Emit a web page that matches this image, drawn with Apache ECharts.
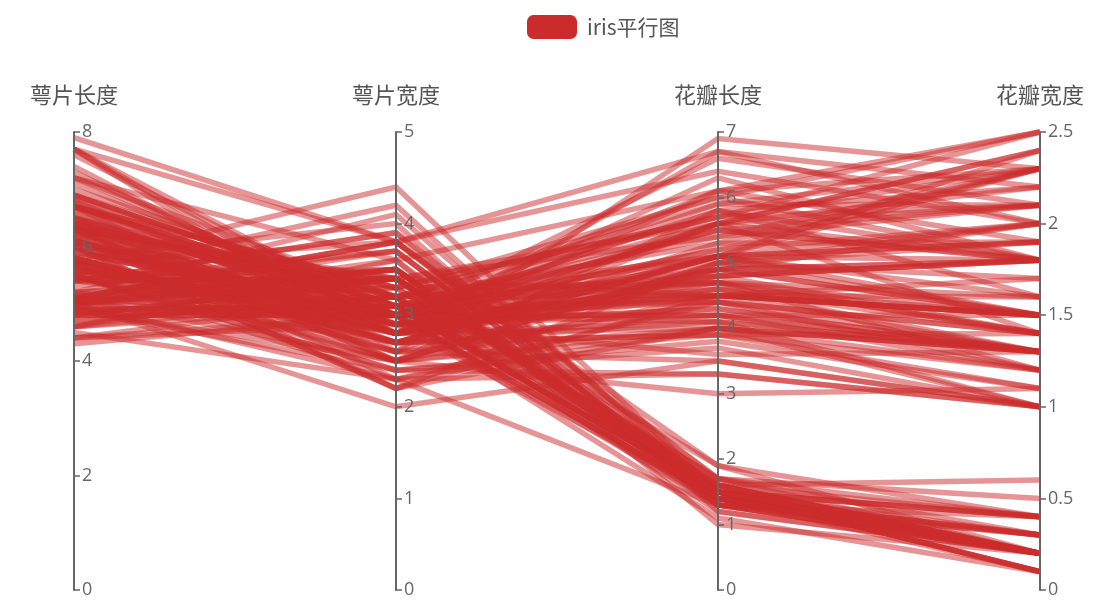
<!DOCTYPE html>
<html>
<head>
<meta charset="utf-8">
<script src="https://cdn.jsdelivr.net/npm/echarts@6/dist/echarts.min.js"></script>
<style>html,body{margin:0;padding:0;background:#fff;}#c{width:1100px;height:608px;}</style>
</head>
<body>
<div id="c"></div>
<script>
const axisNames = ['萼片长度', '萼片宽度', '花瓣长度', '花瓣宽度'];
const axisMax = [8, 5, 7, 2.5];
const axisInterval = [2, 1, 1, 0.5];
const seriesName = 'iris平行图';

const sepalLength = [5.1,4.9,4.7,4.6,5.0,5.4,4.6,5.0,4.4,4.9,5.4,4.8,4.8,4.3,5.8,5.7,5.4,5.1,5.7,5.1,5.4,5.1,4.6,5.1,4.8,5.0,5.0,5.2,5.2,4.7,4.8,5.4,5.2,5.5,4.9,5.0,5.5,4.9,4.4,5.1,5.0,4.5,4.4,5.0,5.1,4.8,5.1,4.6,5.3,5.0,
7.0,6.4,6.9,5.5,6.5,5.7,6.3,4.9,6.6,5.2,5.0,5.9,6.0,6.1,5.6,6.7,5.6,5.8,6.2,5.6,5.9,6.1,6.3,6.1,6.4,6.6,6.8,6.7,6.0,5.7,5.5,5.5,5.8,6.0,5.4,6.0,6.7,6.3,5.6,5.5,5.5,6.1,5.8,5.0,5.6,5.7,5.7,6.2,5.1,5.7,
6.3,5.8,7.1,6.3,6.5,7.6,4.9,7.3,6.7,7.2,6.5,6.4,6.8,5.7,5.8,6.4,6.5,7.7,7.7,6.0,6.9,5.6,7.7,6.3,6.7,7.2,6.2,6.1,6.4,7.2,7.4,7.9,6.4,6.3,6.1,7.7,6.3,6.4,6.0,6.9,6.7,6.9,5.8,6.8,6.7,6.7,6.3,6.5,6.2,5.9];
const sepalWidth = [3.5,3.0,3.2,3.1,3.6,3.9,3.4,3.4,2.9,3.1,3.7,3.4,3.0,3.0,4.0,4.4,3.9,3.5,3.8,3.8,3.4,3.7,3.6,3.3,3.4,3.0,3.4,3.5,3.4,3.2,3.1,3.4,4.1,4.2,3.1,3.2,3.5,3.1,3.0,3.4,3.5,2.3,3.2,3.5,3.8,3.0,3.8,3.2,3.7,3.3,
3.2,3.2,3.1,2.3,2.8,2.8,3.3,2.4,2.9,2.7,2.0,3.0,2.2,2.9,2.9,3.1,3.0,2.7,2.2,2.5,3.2,2.8,2.5,2.8,2.9,3.0,2.8,3.0,2.9,2.6,2.4,2.4,2.7,2.7,3.0,3.4,3.1,2.3,3.0,2.5,2.6,3.0,2.6,2.3,2.7,3.0,2.9,2.9,2.5,2.8,
3.3,2.7,3.0,2.9,3.0,3.0,2.5,2.9,2.5,3.6,3.2,2.7,3.0,2.5,2.8,3.2,3.0,3.8,2.6,2.2,3.2,2.8,2.8,2.7,3.3,3.2,2.8,3.0,2.8,3.0,2.8,3.8,2.8,2.8,2.6,3.0,3.4,3.1,3.0,3.1,3.1,3.1,2.7,3.2,3.3,3.0,2.5,3.0,3.4,3.0];
const petalLength = [1.4,1.4,1.3,1.5,1.4,1.7,1.4,1.5,1.4,1.5,1.5,1.6,1.4,1.1,1.2,1.5,1.3,1.4,1.7,1.5,1.7,1.5,1.0,1.7,1.9,1.6,1.6,1.5,1.4,1.6,1.6,1.5,1.5,1.4,1.5,1.2,1.3,1.5,1.3,1.5,1.3,1.3,1.3,1.6,1.9,1.4,1.6,1.4,1.5,1.4,
4.7,4.5,4.9,4.0,4.6,4.5,4.7,3.3,4.6,3.9,3.5,4.2,4.0,4.7,3.6,4.4,4.5,4.1,4.5,3.9,4.8,4.0,4.9,4.7,4.3,4.4,4.8,5.0,4.5,3.5,3.8,3.7,3.9,5.1,4.5,4.5,4.7,4.4,4.1,4.0,4.4,4.6,4.0,3.3,4.2,4.2,4.2,4.3,3.0,4.1,
6.0,5.1,5.9,5.6,5.8,6.6,4.5,6.3,5.8,6.1,5.1,5.3,5.5,5.0,5.1,5.3,5.5,6.7,6.9,5.0,5.7,4.9,6.7,4.9,5.7,6.0,4.8,4.9,5.6,5.8,6.1,6.4,5.6,5.1,5.6,6.1,5.6,5.5,4.8,5.4,5.6,5.1,5.1,5.9,5.7,5.2,5.0,5.2,5.4,5.1];
const petalWidth = [0.2,0.2,0.2,0.2,0.2,0.4,0.3,0.2,0.2,0.1,0.2,0.2,0.1,0.1,0.2,0.4,0.4,0.3,0.3,0.3,0.2,0.4,0.2,0.5,0.2,0.2,0.4,0.2,0.2,0.2,0.2,0.4,0.1,0.2,0.1,0.2,0.2,0.1,0.2,0.2,0.3,0.3,0.2,0.6,0.4,0.3,0.2,0.2,0.2,0.2,
1.4,1.5,1.5,1.3,1.5,1.3,1.6,1.0,1.3,1.4,1.0,1.5,1.0,1.4,1.3,1.4,1.5,1.0,1.5,1.1,1.8,1.3,1.5,1.2,1.3,1.4,1.4,1.7,1.5,1.0,1.1,1.0,1.2,1.6,1.5,1.6,1.5,1.3,1.3,1.3,1.2,1.4,1.2,1.0,1.3,1.2,1.3,1.3,1.1,1.3,
2.5,1.9,2.1,1.8,2.2,2.1,1.7,1.8,1.8,2.5,2.0,1.9,2.1,2.0,2.4,2.3,1.8,2.2,2.3,1.5,2.3,2.0,2.0,1.8,2.1,1.8,1.8,1.8,2.1,1.6,1.9,2.0,2.2,1.5,1.4,2.3,2.4,1.8,1.8,2.1,2.4,2.3,1.9,2.3,2.5,2.3,1.9,2.0,2.3,1.8];

const rows = sepalLength.map((v, i) => [v, sepalWidth[i], petalLength[i], petalWidth[i]]);

const chart = echarts.init(document.getElementById('c'));
chart.setOption({
  animation: false,
  backgroundColor: '#fff',
  legend: {
    top: 10,
    left: 522,
    itemWidth: 48,
    itemHeight: 22,
    icon: 'roundRect',
    textStyle: { fontSize: 21, color: '#555', fontFamily: 'Noto Sans CJK SC', padding: [0, 0, 0, 6] },
    data: [seriesName]
  },
  parallel: {
    left: 74,
    right: 60,
    top: 132,
    bottom: 18,
    parallelAxisDefault: {
      type: 'value',
      nameLocation: 'end',
      nameGap: 26,
      nameTextStyle: { fontSize: 22, color: '#555', fontFamily: 'Noto Sans CJK SC' },
      axisLine: { lineStyle: { color: '#666', width: 2 } },
      axisTick: { lineStyle: { color: '#666', width: 1.5 }, length: 6 },
      axisLabel: { fontSize: 18, color: '#666', fontFamily: 'Open Sans', margin: 8 },
      splitLine: { show: false }
    }
  },
  parallelAxis: axisNames.map((n, i) => ({
    dim: i, name: n, min: 0, max: axisMax[i], interval: axisInterval[i]
  })),
  series: [{
    name: seriesName,
    type: 'parallel',
    color: '#cc2b2b',
    lineStyle: { width: 5.5, opacity: 0.5, color: '#cc2b2b' },
    data: rows
  }]
});
</script>
</body>
</html>
